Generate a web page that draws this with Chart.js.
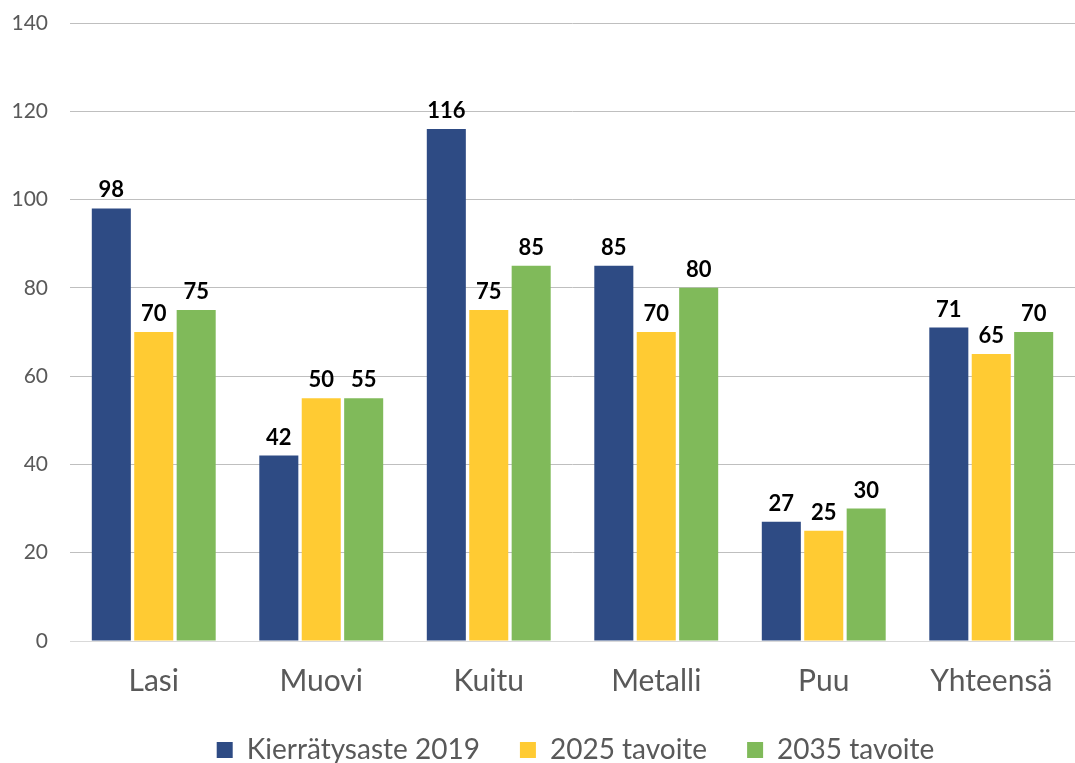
<!DOCTYPE html>
<html>
<head>
<meta charset="utf-8">
<script src="https://cdn.jsdelivr.net/npm/chart.js@4"></script>
<style>
  body { margin: 0; background: #fff; }
  #wrap { width: 1075px; height: 763px; }
</style>
</head>
<body>
<div id="wrap"><canvas id="chart" width="1075" height="763"></canvas></div>
<script>
// Chart data
const categories = ['Lasi', 'Muovi', 'Kuitu', 'Metalli', 'Puu', 'Yhteensä'];
const rate2019 = [98, 42, 116, 85, 27, 71];
const target2025 = [70, 55, 75, 70, 25, 65];
const target2025Labels = [70, 50, 75, 70, 25, 65]; // Muovi label reads 50 in the original
const target2035 = [75, 55, 85, 80, 30, 70];
const yTicks = [0, 20, 40, 60, 80, 100, 120, 140];

const fontFamily = 'Lato, "Open Sans", sans-serif';

// Simple value labels above bars
const barLabels = {
    id: 'barLabels',
    afterDatasetsDraw(chart) {
        const ctx = chart.ctx;
        ctx.save();
        ctx.font = 'bold 22px ' + fontFamily;
        ctx.fillStyle = '#000';
        ctx.textAlign = 'center';
        ctx.textBaseline = 'alphabetic';
        chart.data.datasets.forEach((ds, i) => {
            const meta = chart.getDatasetMeta(i);
            const texts = ds.labelTexts || ds.data;
            meta.data.forEach((bar, j) => {
                ctx.fillText(texts[j], bar.x, bar.y - 11);
            });
        });
        ctx.restore();
    }
};

// Nudge the legend a bit to the right, like the original
const legendShift = {
    id: 'legendShift',
    afterLayout(chart) {
        if (chart.legend) {
            chart.legend.left += 38;
            chart.legend.right += 38;
        }
    }
};

new Chart(document.getElementById('chart'), {
    type: 'bar',
    data: {
        labels: categories,
        datasets: [
            { label: 'Kierrätysaste 2019', data: rate2019, backgroundColor: '#2E4B84' },
            { label: '2025 tavoite', data: target2025, labelTexts: target2025Labels, backgroundColor: '#FFCB33' },
            { label: '2035 tavoite', data: target2035, backgroundColor: '#80BA5A' }
        ]
    },
    options: {
        responsive: false,
        animation: false,
        layout: { padding: { top: 23, right: 0, left: 0, bottom: -11 } },
        datasets: {
            bar: { categoryPercentage: 0.76, barPercentage: 0.92 }
        },
        plugins: {
            tooltip: { enabled: false },
            legend: {
                position: 'bottom',
                labels: {
                    font: { size: 28, family: fontFamily },
                    color: '#595959',
                    boxWidth: 16,
                    boxHeight: 16,
                    padding: 40
                }
            }
        },
        scales: {
            x: {
                grid: { display: false },
                border: { color: '#D9D9D9' },
                afterFit(scale) {
                    scale.height = 55;
                    scale.paddingLeft = 0;
                    scale.paddingRight = 0;
                },
                ticks: {
                    font: { size: 30, family: fontFamily },
                    color: '#595959',
                    padding: 14
                }
            },
            y: {
                min: 0,
                max: 140,
                afterBuildTicks(scale) {
                    scale.ticks = yTicks.map(v => ({ value: v }));
                },
                afterFit(scale) {
                    scale.width = 70;
                    scale.paddingTop = 0;
                    scale.paddingBottom = 0;
                },
                grid: { color: '#BFBFBF', drawTicks: false },
                border: { display: false },
                ticks: {
                    font: { size: 21, family: fontFamily },
                    color: '#595959',
                    padding: 22
                }
            }
        }
    },
    plugins: [barLabels, legendShift]
});
</script>
</body>
</html>
